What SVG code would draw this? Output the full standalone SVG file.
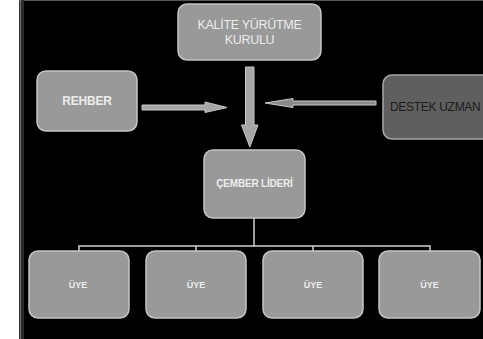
<svg xmlns="http://www.w3.org/2000/svg" width="483" height="339" viewBox="0 0 483 339">
<style>
.box{fill:#999999;stroke:#c4c4c4;stroke-width:1.5}
.dark{fill:#5f5f5f;stroke:#a8a8a8;stroke-width:1.5}
.t{font-family:"Liberation Sans",Arial,sans-serif;fill:#ececec;text-anchor:middle}
.b{font-weight:bold}
.arr{fill:#a6a6a6;stroke:#c8c8c8;stroke-width:1}
.line{stroke:#d0d0d0;stroke-width:1.5;fill:none}
</style>
<rect x="0" y="0" width="483" height="339" fill="#ffffff"/>
<rect x="19" y="0" width="464" height="339" fill="#000000"/>
<rect x="19" y="0" width="464" height="1" fill="#555"/>
<rect x="19.5" y="0" width="2" height="339" fill="#6a6a6a"/>
<rect x="21.5" y="0" width="2.5" height="339" fill="#2a2a2a"/>

<g id="connectors">
  <path class="arr" d="M245.5 67 H254 V125 H258 L249.8 147 L241.5 125 H245.5 Z"/>
  <path class="arr" d="M142 105 H205 V102 L227 107.5 L205 112.5 V110 H142 Z"/>
  <path class="arr" style="fill:#8a8a8a" d="M376 101 H293 V98.5 L265 103 L293 107.5 V105 H376 Z"/>
  <path class="line" d="M254 218 V246 M79 251 V246 H430 V251 M196 246 V251 M313 246 V251"/>
</g>

<g id="kalite">
  <rect class="box" x="178" y="4" width="143" height="56" rx="9"/>
  <text class="t" x="249.5" y="29" font-size="12.5" letter-spacing="-0.3">KALİTE YÜRÜTME</text>
  <text class="t" x="249.5" y="44" font-size="12.5" letter-spacing="-0.3">KURULU</text>
</g>

<g id="rehber">
  <rect class="box" x="37" y="71" width="100" height="60" rx="9"/>
  <text class="t b" x="87" y="105" font-size="12" letter-spacing="-0.2">REHBER</text>
</g>

<g id="destek">
  <rect class="dark" x="383" y="75" width="110" height="64" rx="9"/>
  <text x="390" y="111" font-size="12" letter-spacing="-0.3" style="font-family:'Liberation Sans',Arial,sans-serif;fill:#1c1c1c">DESTEK UZMAN</text>
</g>

<g id="lider">
  <rect class="box" x="204" y="150" width="101" height="68" rx="9"/>
  <text class="t b" x="254.5" y="187" font-size="10" letter-spacing="-0.2">ÇEMBER LİDERİ</text>
</g>

<g id="uye1">
  <rect class="box" x="29" y="251" width="100" height="67" rx="9"/>
  <text class="t b" x="78" y="288" font-size="9">ÜYE</text>
</g>
<g id="uye2">
  <rect class="box" x="146" y="251" width="100" height="67" rx="9"/>
  <text class="t b" x="196" y="288" font-size="9">ÜYE</text>
</g>
<g id="uye3">
  <rect class="box" x="263" y="251" width="100" height="67" rx="9"/>
  <text class="t b" x="313" y="288" font-size="9">ÜYE</text>
</g>
<g id="uye4">
  <rect class="box" x="379" y="251" width="101" height="67" rx="9"/>
  <text class="t b" x="429.5" y="288" font-size="9">ÜYE</text>
</g>
</svg>
